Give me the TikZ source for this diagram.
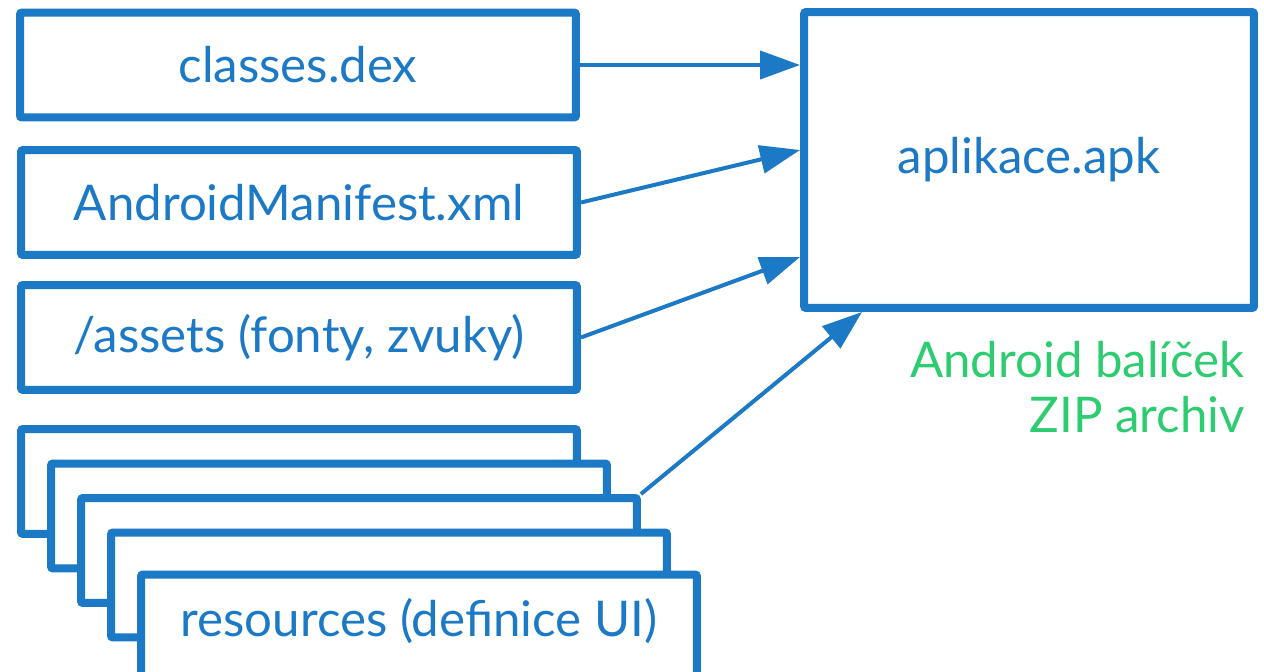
\documentclass[tikz,border=0pt]{standalone}
\usepackage{fontspec}
\setmainfont{Lato}
\usetikzlibrary{arrows.meta}
\definecolor{ablue}{HTML}{1B79C6}
\definecolor{agreen}{HTML}{2ECC71}
\begin{document}
\begin{tikzpicture}[x=0.02cm,y=-0.02cm,
  filebox/.style={draw=ablue,line width=0.16cm,fill=white,rounded corners=0.04cm,
    minimum width=11.12cm,minimum height=2.1cm,inner sep=0pt,
    font=\fontsize{28}{33}\selectfont,text=ablue},
  apkbox/.style={filebox,minimum width=9cm,minimum height=5.92cm},
  conn/.style={draw=ablue,line width=0.08cm,-{Triangle[length=0.8cm,width=0.56cm]}},
  note/.style={text=agreen,font=\fontsize{28}{31.5}\selectfont,align=right,inner sep=0pt}]
\useasboundingbox (0,0) rectangle (1264,672);
\clip (0,0) rectangle (1264,672);
\node[filebox] (b1) at (298,65) {classes.dex};
\node[filebox] (b2) at (299,202.5) {AndroidManifest.xml};
\node[filebox] (b3) at (299,337.5) {/assets (fonty, zvuky)};
\node[filebox] (sa) at (299,481.5) {};
\node[filebox] (sb) at (329,516) {};
\node[filebox] (sc) at (359,550.5) {};
\node[filebox] (sd) at (389,585) {};
\node[filebox] (se) at (419,627) {};
\node[text=ablue,font=\fontsize{28}{33}\selectfont,inner sep=0pt] (setxt) at (419,621) {resources (definice UI)};
\node[apkbox] (apk) at (1029,160) {aplikace.apk};
\node[note,anchor=north east] (lbl) at (1245,341) {Android balíček\\ZIP archiv};
\draw[conn] (b1.east) -- (b1.east -| apk.west);
\draw[conn] (b2.east) -- ([yshift=0.2cm]apk.west);
\draw[conn] (b3.east) -- ([yshift=-1.94cm]apk.west);
\draw[conn] (sc.north east) -- ([xshift=1.24cm]apk.south west);
\end{tikzpicture}
\end{document}
